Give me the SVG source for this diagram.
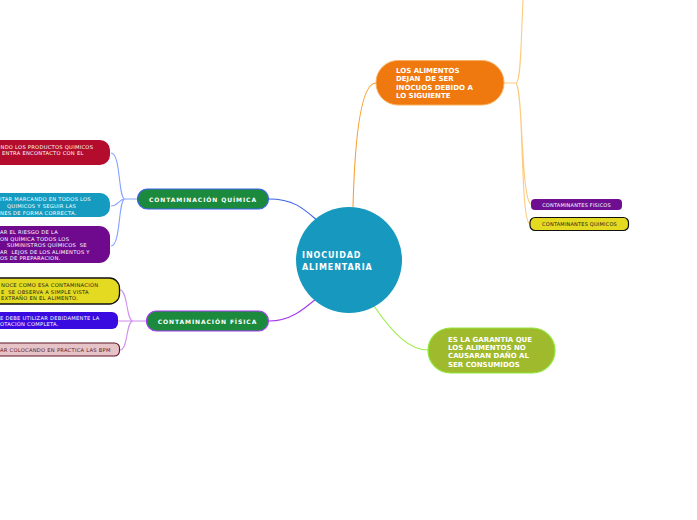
<svg xmlns="http://www.w3.org/2000/svg" width="697" height="520" viewBox="0 0 697 520">
<style>
.small{font-family:"DejaVu Sans",Verdana,sans-serif;font-size:5.2px;letter-spacing:0.25px;fill:#fff;white-space:pre}
.dark{fill:#1a1a1a}
.maroon{fill:#5c1626}
.big{font-family:"DejaVu Sans",Verdana,sans-serif;font-weight:bold;font-size:7px;fill:#fff}
.mid{font-family:"DejaVu Sans",Verdana,sans-serif;font-weight:bold;font-size:6px;letter-spacing:0.9px;fill:#fff;text-anchor:middle}
.tiny{font-family:"DejaVu Sans",Verdana,sans-serif;font-size:5px;letter-spacing:0.2px;text-anchor:middle}
.link{fill:none;stroke-width:1.1}
</style>
<rect width="697" height="520" fill="#fff"/>
<g id="connectors">
  <path class="link" stroke="#3b62e8" d="M269,199 C295,199 305,210 319,222"/>
  <path class="link" stroke="#86a2ff" d="M137,199 H125 M125,199 C118,199 121,153 111,153 M125,199 C119,199 118,206 111,206 M125,199 C118,199 121,246 111,246"/>
  <path class="link" stroke="#a43bf0" d="M269,321 C290,321 303,310 317,298"/>
  <path class="link" stroke="#d08ef0" d="M146,321 H133 M133,321 C126,321 128,290 120,290 M133,321 H118 M133,321 C126,321 128,350 120,350"/>
  <path class="link" stroke="#f7a030" d="M353,207 C355,130 362,83 376,83"/>
  <path class="link" stroke="#fccb80" d="M504,83 H516 M516,83 C521,83 521,40 523,0 M516,83 C523,90 521,200 531,204 M516,83 C524,92 520,222 530,224"/>
  <path class="link" stroke="#99ee44" d="M374,306 C394,335 410,350 428,350"/>
</g>
<g id="central">
  <circle cx="349" cy="260" r="53" fill="#1799bf"/>
  <text class="big" style="font-size:8px;letter-spacing:0.9px" x="302" y="258">INOCUIDAD</text>
  <text class="big" style="font-size:8px;letter-spacing:0.9px" x="302" y="269.5">ALIMENTARIA</text>
</g>
<g id="quimica">
  <rect x="137.5" y="189" width="131" height="20" rx="10" fill="#1c8a3c" stroke="#3b62e8" stroke-width="1.2"/>
  <text class="mid" x="203" y="201.7">CONTAMINACIÓN QUÍMICA</text>
</g>
<g id="fisica">
  <rect x="146.5" y="311" width="122" height="20" rx="10" fill="#1c8a3c" stroke="#a43bf0" stroke-width="1.2"/>
  <text class="mid" x="207.5" y="323.7">CONTAMINACIÓN FÍSICA</text>
</g>
<g id="q1">
  <rect x="-40" y="140" width="150" height="25" rx="10" fill="#b30c2c"/>
  <text class="small" x="0.5" y="149">NDO LOS PRODUCTOS QUIMICOS</text>
  <text class="small" x="2" y="155">ENTRA ENCONTACTO CON EL</text>
</g>
<g id="q2">
  <rect x="-40" y="193" width="150" height="24" rx="10" fill="#149bbf"/>
  <text class="small" x="0" y="201">ITAR MARCANDO EN TODOS LOS</text>
  <text class="small" x="7" y="207.5">QUIMICOS Y SEGUIR LAS</text>
  <text class="small" x="0" y="214.5">NES DE FORMA CORRECTA.</text>
</g>
<g id="q3">
  <rect x="-40" y="226" width="150" height="37" rx="11" fill="#6f0a8e"/>
  <text class="small" x="0" y="234">AR EL RIESGO DE LA</text>
  <text class="small" x="0" y="241">ON QUÍMICA TODOS LOS</text>
  <text class="small" x="7" y="247">SUMINISTROS QUÍMICOS  SE</text>
  <text class="small" x="0" y="254">AR  LEJOS DE LOS ALIMENTOS Y</text>
  <text class="small" x="0" y="260">OS DE PREPARACION.</text>
</g>
<g id="f1">
  <rect x="-40" y="278" width="159.5" height="26" rx="10" fill="#e4da21" stroke="#111" stroke-width="1.3"/>
  <text class="small dark" x="1" y="287">NOCE COMO ESA CONTAMINACIÓN</text>
  <text class="small dark" x="1" y="294">E  SE OBSERVA A SIMPLE VISTA</text>
  <text class="small dark" x="1" y="300">EXTRAÑO EN EL ALIMENTO.</text>
</g>
<g id="f2">
  <rect x="-40" y="312" width="158" height="17" rx="6" fill="#3a0be0"/>
  <text class="small" x="0" y="319.5">E DEBE UTILIZAR DEBIDAMENTE LA</text>
  <text class="small" x="0" y="325.5">OTACIÓN COMPLETA.</text>
</g>
<g id="f3">
  <rect x="-40" y="343" width="159.5" height="13" rx="5" fill="#e6c3c7" stroke="#5c1626" stroke-width="1.1"/>
  <text class="small maroon" x="0" y="352">AR COLOCANDO EN PRACTICA LAS BPM</text>
</g>
<g id="causas">
  <rect x="376" y="60.5" width="128" height="44.5" rx="22" fill="#ef790f" stroke="#f8b060" stroke-width="1"/>
  <text class="big" x="396" y="72.5">LOS ALIMENTOS</text>
  <text class="big" x="396" y="81" style="white-space:pre">DEJAN  DE SER</text>
  <text class="big" x="396" y="89.5">INOCUOS DEBIDO A</text>
  <text class="big" x="396" y="98">LO SIGUIENTE</text>
</g>
<g id="fisicos">
  <rect x="531" y="199" width="91" height="11" rx="4" fill="#6e0f92"/>
  <text class="tiny" fill="#fff" x="576.5" y="206.5">CONTAMINANTES FISICOS</text>
</g>
<g id="quimicos">
  <rect x="530" y="217.5" width="98.5" height="13" rx="5" fill="#e4da21" stroke="#111" stroke-width="1.2"/>
  <text class="tiny" fill="#1a1a1a" x="579.5" y="225.8">CONTAMINANTES QUIMICOS</text>
</g>
<g id="garantia">
  <rect x="428" y="328" width="127" height="45" rx="22.5" fill="#9fba2c" stroke="#8fe83a" stroke-width="1.2"/>
  <text class="big dark" x="448" y="341.5">ES LA GARANTIA QUE</text>
  <text class="big dark" x="448" y="349.5">LOS ALIMENTOS NO</text>
  <text class="big dark" x="448" y="358">CAUSARAN DAÑO AL</text>
  <text class="big dark" x="448" y="366.5">SER CONSUMIDOS</text>
</g>
</svg>
